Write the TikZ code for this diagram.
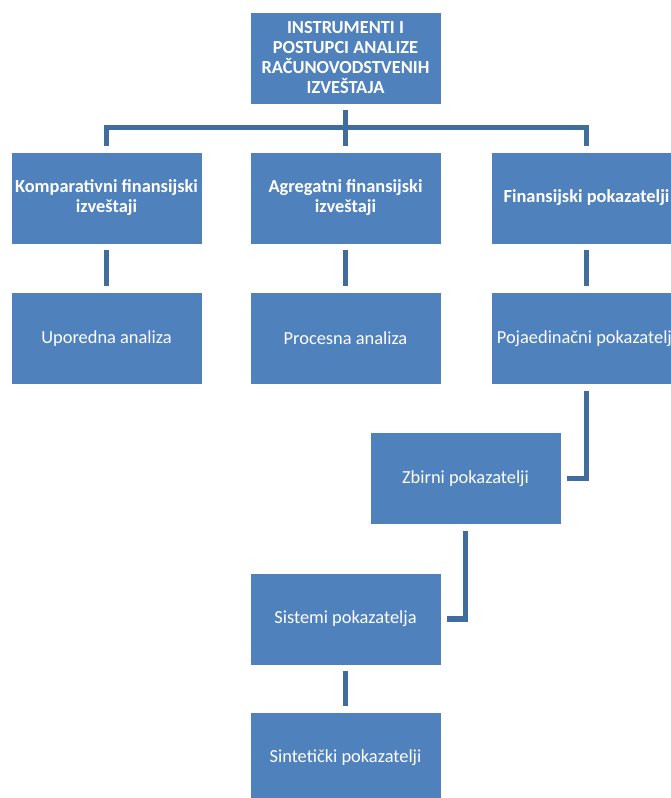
\documentclass[tikz,border=0pt]{standalone}
\usepackage{fontspec}
\setmainfont{Carlito}
\usepackage{xcolor}
\usepackage{tikz}

\definecolor{boxblue}{RGB}{79,129,189}
\definecolor{lineblue}{RGB}{65,108,158}

\begin{document}
\begin{tikzpicture}[x=1pt, y=-1pt,
    box/.style={draw=white, line width=0.6pt, rectangle, fill=boxblue, text=white,
        minimum width=191pt, minimum height=92pt, inner sep=2pt, align=center,
        font=\fontsize{18.4}{20}\selectfont},
    head/.style={box, font=\fontsize{18.4}{20}\selectfont\bfseries},
    conn/.style={draw=lineblue, line width=5.5pt, shorten <=6pt, shorten >=6pt}]
    \useasboundingbox (0,0) rectangle (671,798);
    \clip (0,0) rectangle (671,798);

    % Root
    \node[head] (root) at (345.5,58) {INSTRUMENTI I\\POSTUPCI ANALIZE\\RAČUNOVODSTVENIH\\IZVEŠTAJA};

    % First level
    \node[head] (komp) at (106.5,198) {Komparativni finansijski\\izveštaji};
    \node[head] (agr) at (345.5,198) {Agregatni finansijski\\izveštaji};
    \node[head] (fin) at (586.5,198) {Finansijski pokazatelji};

    % Second level
    \node[box] (upo) at (106.5,338.5) {Uporedna analiza};
    \node[box] (pro) at (345.5,338.5) {Procesna analiza};
    \node[box] (poj) at (586.5,338.5) {Pojaedinačni pokazatelji};

    % Chain of indicators
    \node[box] (zbir) at (465.5,478.5) {Zbirni pokazatelji};
    \node[box] (sis) at (345.5,619) {Sistemi pokazatelja};
    \node[box] (sint) at (345.5,758) {Sintetički pokazatelji};

    % Edges
    \draw[conn, shorten >=0pt] (root.south) -- ++(0,23) coordinate (bar);
    \draw[conn, shorten <=0pt, line join=miter] (bar) -| (komp.north);
    \draw[conn, shorten <=0pt, line join=miter] (bar) -| (fin.north);
    \draw[conn, shorten <=0pt] (bar) -- (agr.north);
    \draw[conn] (komp) -- (upo);
    \draw[conn] (agr) -- (pro);
    \draw[conn] (fin) -- (poj);
    \draw[conn, line join=miter] (poj.south) |- (zbir.east);
    \draw[conn, line join=miter] (zbir.south) |- (sis.east);
    \draw[conn] (sis) -- (sint);
\end{tikzpicture}
\end{document}
